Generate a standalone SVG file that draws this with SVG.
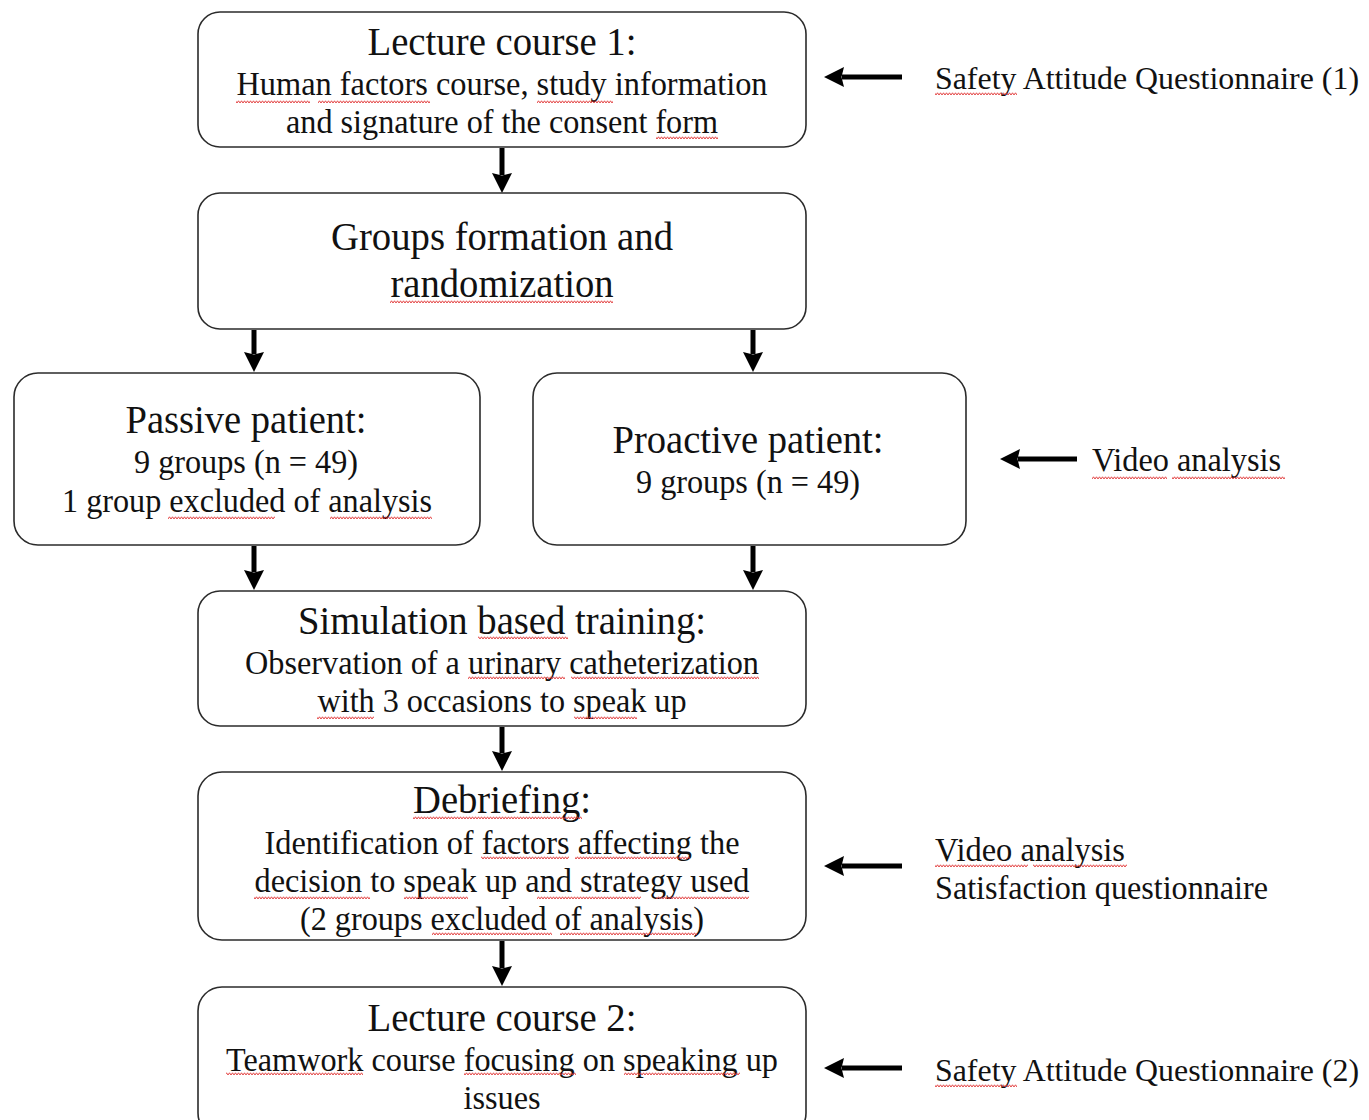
<svg xmlns="http://www.w3.org/2000/svg" width="1369" height="1120" viewBox="0 0 1369 1120">
<style>
.box{fill:#fff;stroke:#2b2b2b;stroke-width:1.6}
text{font-family:"Liberation Serif","Times New Roman",serif;fill:#111;text-anchor:middle}
.t{font-size:40px}
.b{font-size:33px}
.s{font-size:33px;text-anchor:start}
.sl{font-size:31.5px;text-anchor:start}
.con{stroke:#000;stroke-width:5;fill:none}
.sq{fill:url(#wave)}
</style>
<defs>
<marker id="ah" markerUnits="userSpaceOnUse" markerWidth="22" markerHeight="22" refX="2" refY="10" orient="auto">
<path d="M0,0 L20,10 L0,20 L2.5,10 Z" fill="#000"/>
</marker>
<pattern id="wave" width="6" height="4" patternUnits="userSpaceOnUse">
<path d="M0,3 L1.5,0.8 L3,3 L4.5,0.8 L6,3" fill="none" stroke="#e03030" stroke-width="0.9"/>
</pattern>
</defs>

<g id="connectors">
<line class="con" x1="502" y1="148" x2="502" y2="175" marker-end="url(#ah)"/>
<line class="con" x1="254" y1="330" x2="254" y2="354" marker-end="url(#ah)"/>
<line class="con" x1="753" y1="330" x2="753" y2="354" marker-end="url(#ah)"/>
<line class="con" x1="254" y1="546" x2="254" y2="572" marker-end="url(#ah)"/>
<line class="con" x1="753" y1="546" x2="753" y2="572" marker-end="url(#ah)"/>
<line class="con" x1="502" y1="727" x2="502" y2="753" marker-end="url(#ah)"/>
<line class="con" x1="502" y1="941" x2="502" y2="968" marker-end="url(#ah)"/>
<line class="con" x1="902" y1="77" x2="842" y2="77" marker-end="url(#ah)"/>
<line class="con" x1="1077" y1="459" x2="1018" y2="459" marker-end="url(#ah)"/>
<line class="con" x1="902" y1="866" x2="842" y2="866" marker-end="url(#ah)"/>
<line class="con" x1="902" y1="1068" x2="842" y2="1068" marker-end="url(#ah)"/>
</g>

<g id="lecture1">
<rect class="box" x="198" y="12" width="608" height="135" rx="22"/>
<text class="t" x="502" y="55" textLength="269" lengthAdjust="spacingAndGlyphs">Lecture course 1:</text>
<text class="b" x="502" y="95" textLength="531" lengthAdjust="spacingAndGlyphs">Human factors course, study information</text>
<text class="b" x="502" y="133" textLength="432" lengthAdjust="spacingAndGlyphs">and signature of the consent form</text>
<rect class="sq" x="236" y="100" width="74" height="4"/>
<rect class="sq" x="318" y="100" width="112" height="4"/>
<rect class="sq" x="537" y="100" width="76" height="4"/>
<rect class="sq" x="656" y="136" width="62" height="4"/>
</g>

<g id="groups">
<rect class="box" x="198" y="193" width="608" height="136" rx="22"/>
<text class="t" x="502" y="250" textLength="342" lengthAdjust="spacingAndGlyphs">Groups formation and</text>
<text class="t" x="502" y="297" textLength="223" lengthAdjust="spacingAndGlyphs">randomization</text>
<rect class="sq" x="390" y="300" width="223" height="4"/>
</g>

<g id="passive">
<rect class="box" x="14" y="373" width="466" height="172" rx="24"/>
<text class="t" x="246" y="433" textLength="241" lengthAdjust="spacingAndGlyphs">Passive patient:</text>
<text class="b" x="246" y="473" textLength="224" lengthAdjust="spacingAndGlyphs">9 groups (n = 49)</text>
<text class="b" x="247" y="512" textLength="370" lengthAdjust="spacingAndGlyphs">1 group excluded of analysis</text>
<rect class="sq" x="168" y="516" width="107" height="4"/>
<rect class="sq" x="330" y="516" width="102" height="4"/>
</g>

<g id="proactive">
<rect class="box" x="533" y="373" width="433" height="172" rx="24"/>
<text class="t" x="748" y="453" textLength="271" lengthAdjust="spacingAndGlyphs">Proactive patient:</text>
<text class="b" x="748" y="493" textLength="224" lengthAdjust="spacingAndGlyphs">9 groups (n = 49)</text>
</g>

<g id="sat1">
<text class="sl" x="935" y="89" textLength="424" lengthAdjust="spacingAndGlyphs">Safety Attitude Questionnaire (1)</text>
<rect class="sq" x="935" y="92" width="82" height="4"/>
</g>

<g id="video1">
<text class="s" x="1092" y="471" textLength="189" lengthAdjust="spacingAndGlyphs">Video analysis</text>
<rect class="sq" x="1092" y="476" width="75" height="4"/>
<rect class="sq" x="1172" y="476" width="113" height="4"/>
</g>

<g id="simulation">
<rect class="box" x="198" y="591" width="608" height="135" rx="22"/>
<text class="t" x="502" y="634" textLength="408" lengthAdjust="spacingAndGlyphs">Simulation based training:</text>
<text class="b" x="502" y="674" textLength="514" lengthAdjust="spacingAndGlyphs">Observation of a urinary catheterization</text>
<text class="b" x="502" y="712" textLength="369" lengthAdjust="spacingAndGlyphs">with 3 occasions to speak up</text>
<rect class="sq" x="478" y="636" width="90" height="4"/>
<rect class="sq" x="468" y="676" width="97" height="4"/>
<rect class="sq" x="571" y="676" width="188" height="4"/>
<rect class="sq" x="317" y="716" width="57" height="4"/>
<rect class="sq" x="574" y="716" width="63" height="4"/>
</g>

<g id="debriefing">
<rect class="box" x="198" y="772" width="608" height="168" rx="24"/>
<text class="t" x="502" y="813" textLength="178" lengthAdjust="spacingAndGlyphs">Debriefing:</text>
<text class="b" x="502" y="854" textLength="475" lengthAdjust="spacingAndGlyphs">Identification of factors affecting the</text>
<text class="b" x="502" y="892" textLength="495" lengthAdjust="spacingAndGlyphs">decision to speak up and strategy used</text>
<text class="b" x="502" y="930" textLength="404" lengthAdjust="spacingAndGlyphs">(2 groups excluded of analysis)</text>
<rect class="sq" x="413" y="816" width="169" height="4"/>
<rect class="sq" x="481" y="856" width="88" height="4"/>
<rect class="sq" x="575" y="856" width="115" height="4"/>
<rect class="sq" x="254" y="896" width="116" height="4"/>
<rect class="sq" x="404" y="896" width="64" height="4"/>
<rect class="sq" x="537" y="896" width="104" height="4"/>
<rect class="sq" x="656" y="896" width="93" height="4"/>
<rect class="sq" x="432" y="932" width="120" height="4"/>
<rect class="sq" x="560" y="932" width="137" height="4"/>
</g>

<g id="video2">
<text class="s" x="935" y="861" textLength="190" lengthAdjust="spacingAndGlyphs">Video analysis</text>
<text class="s" x="935" y="899" textLength="333" lengthAdjust="spacingAndGlyphs">Satisfaction questionnaire</text>
<rect class="sq" x="935" y="864" width="93" height="4"/>
<rect class="sq" x="1033" y="864" width="94" height="4"/>
</g>

<g id="lecture2">
<rect class="box" x="198" y="987" width="608" height="150" rx="24"/>
<text class="t" x="502" y="1031" textLength="269" lengthAdjust="spacingAndGlyphs">Lecture course 2:</text>
<text class="b" x="502" y="1071" textLength="552" lengthAdjust="spacingAndGlyphs">Teamwork course focusing on speaking up</text>
<text class="b" x="502" y="1109" textLength="77" lengthAdjust="spacingAndGlyphs">issues</text>
<rect class="sq" x="226" y="1072" width="137" height="4"/>
<rect class="sq" x="464" y="1072" width="112" height="4"/>
<rect class="sq" x="624" y="1072" width="116" height="4"/>
</g>

<g id="sat2">
<text class="sl" x="935" y="1081" textLength="424" lengthAdjust="spacingAndGlyphs">Safety Attitude Questionnaire (2)</text>
<rect class="sq" x="935" y="1084" width="82" height="4"/>
</g>
</svg>
